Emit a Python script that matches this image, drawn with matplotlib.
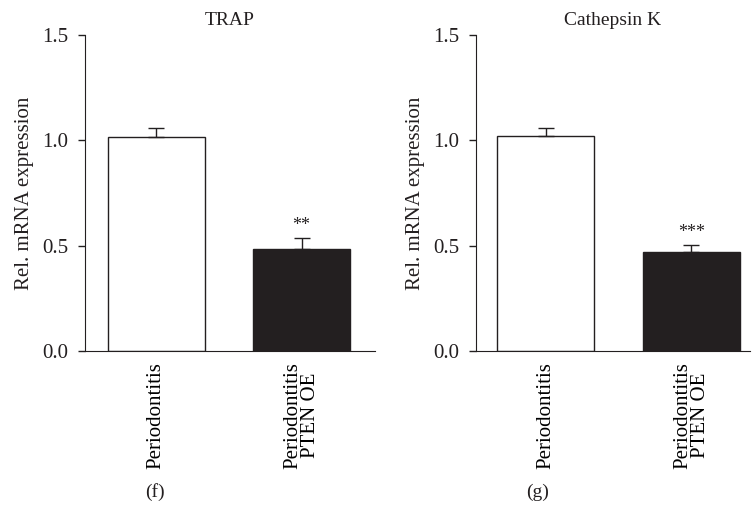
import matplotlib.pyplot as plt

plt.rcParams['font.family'] = ['Liberation Serif', 'DejaVu Serif']

groups = ['Periodontitis', 'Periodontitis\nPTEN OE']
titles = ['TRAP', 'Cathepsin K']
panel_tags = ['(f)', '(g)']
trap_mean = [1.016, 0.484]
trap_err = [0.043, 0.052]
ctsk_mean = [1.02, 0.47]
ctsk_err = [0.04, 0.032]
stars = [['', '**'], ['', '***']]

fig = plt.figure(figsize=(7.55, 5.15), dpi=100)
ax1 = fig.add_axes([0.1126, 0.318, 0.384, 0.614])
ax2 = fig.add_axes([0.630, 0.318, 0.363, 0.614])

panels = [(ax1, trap_mean, trap_err, (-0.49, 1.505), 0.205),
          (ax2, ctsk_mean, ctsk_err, (-0.48, 1.40), 0.7126)]

for i, (ax, means, errs, xl, tag_x) in enumerate(panels):
    x = range(len(means))
    ax.bar(x, means, width=0.67, color=['white', '#231f20'],
           edgecolor='#231f20', linewidth=1.0,
           yerr=[[0, 0], errs], capsize=6,
           error_kw=dict(ecolor='#231f20', elinewidth=1.0, capthick=1.0))
    for j in x:
        if stars[i][j]:
            ax.text(j, means[j] + errs[j] + 0.02, stars[i][j], ha='center',
                    va='bottom', fontsize=13, color='#231f20')
    ax.set_xlim(*xl)
    ax.set_ylim(0, 1.5)
    ax.set_yticks([0, 0.5, 1.0, 1.5])
    ax.set_yticklabels(['0.0', '0.5', '1.0', '1.5'])
    ax.set_xticks(list(x))
    ax.set_xticklabels(groups, rotation=90, fontsize=15, linespacing=0.9)
    ax.tick_params(axis='x', length=0, pad=8)
    ax.tick_params(axis='y', length=5, width=1, labelsize=15, pad=7,
                   colors='#231f20')
    ax.spines['top'].set_visible(False)
    ax.spines['right'].set_visible(False)
    ax.spines['left'].set_color('#231f20')
    ax.spines['bottom'].set_color('#231f20')
    ax.set_ylabel('Rel. mRNA expression', fontsize=15, color='#231f20',
                  labelpad=6)
    ax.set_title(titles[i], fontsize=14, color='#231f20', pad=7)
    fig.text(tag_x, 0.0447, panel_tags[i], ha='center', va='center',
             fontsize=14, color='#231f20')

fig.savefig('out.png', dpi=100)
